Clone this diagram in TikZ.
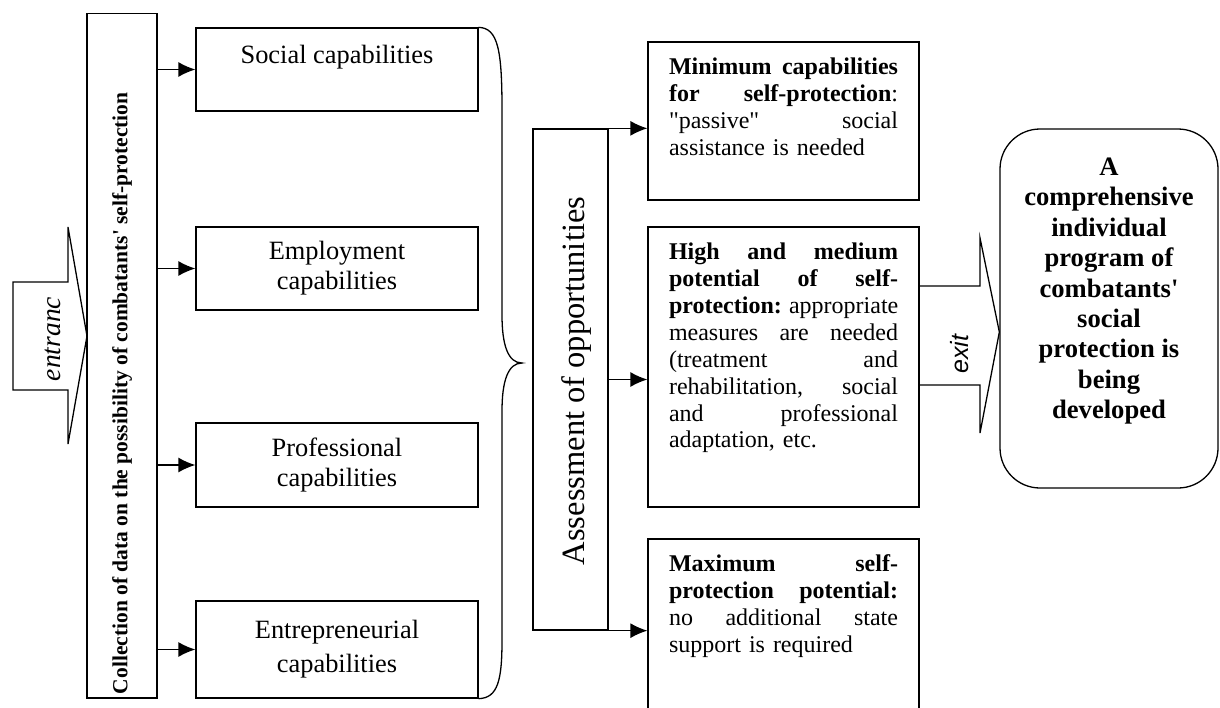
\documentclass[tikz,border=0pt]{standalone}
\usepackage{fontspec}
\setmainfont{Liberation Serif}
\newfontfamily\tnr{Liberation Serif}
\newfontfamily\exitsans{Liberation Sans}
\usetikzlibrary{arrows.meta}
\newcommand\jl[1]{\leavevmode\hbox to 229pt{\spaceskip=0.25em plus 20em\xspaceskip=0.3em plus 20em\relax #1}}

\begin{document}
\begin{tikzpicture}[x=1pt,y=-1pt,line width=1.3pt,
    arr/.style={-{Latex[length=17pt,width=15pt]}},
    capbox/.style={draw,minimum width=282pt,minimum height=83pt,align=center,
        font=\tnr\fontsize{26.4}{30}\selectfont},
    optbox/.style={draw,minimum width=271pt},
    opttxt/.style={anchor=north west,inner sep=0pt,text width=229pt,align=left,
        font=\tnr\fontsize{24}{26.9}\selectfont}]
            \useasboundingbox (0,0) rectangle (1220,707);
            \clip (0,0) rectangle (1220,707);

            % entrance
            \node[draw,minimum width=70pt,minimum height=684.5pt] (coll) at (122,355.75) {};
            \node[rotate=90,anchor=west,font=\tnr\bfseries\fontsize{21.5}{24}\selectfont] (colltxt) at (122,698)
                {Collection of data on the possibility of combatants' self-protection};
            \draw (13,282) -- (68,282) -- (68,227) -- (87,336) -- (68,444) -- (68,390) -- (13,390) -- cycle;
            \node[rotate=90,font=\tnr\itshape\fontsize{27.5}{30}\selectfont] (entr) at (53,339) {entranc};

            \node[capbox] (soc) at (337,69.5) {Social capabilities\\\mbox{}};
            \node[capbox] (emp) at (337,268.5) {Employment\\capabilities};
            \node[capbox,minimum height=84pt] (prof) at (337,465) {Professional\\capabilities};
            \node[capbox,minimum height=97pt] (entre) at (337,649.5) {Entrepreneurial\\[4pt]capabilities};

            \foreach \n in {soc,emp,prof,entre}
                \draw[arr] (coll.east |- \n.west) -- (\n.west);

            % brace
            \draw (soc.north east) .. controls (498,28) and (502,50) .. (502,110) -- (502,315)
                .. controls (502,345) and (508,363) .. (522,363)
                .. controls (508,363) and (502,381) .. (502,411) -- (502,640)
                .. controls (502,680) and (498,698) .. (entre.south east);

            \node[draw,minimum width=75pt,minimum height=501pt] (assess) at (570.5,379.5) {};
            \node[rotate=90,font=\tnr\fontsize{32.5}{36}\selectfont] (assesstxt) at (577,381) {Assessment of opportunities};

            \node[optbox,minimum height=158pt] (minbox) at (783.5,121) {};
            \node[optbox,minimum height=280pt] (midbox) at (783.5,367) {};
            \node[optbox,minimum height=180pt] (maxbox) at (783.5,629) {};

            \node[opttxt] (mintxt) at ([xshift=21pt,yshift=-16pt]minbox.north west)
                {\jl{\textbf{Minimum capabilities}}\\
                 \jl{\textbf{for self-protection}:}\\
                 \jl{"passive" social}\\
                 assistance is needed};
            \node[opttxt] (midtxt) at ([xshift=21pt,yshift=-16pt]midbox.north west)
                {\jl{\textbf{High and medium}}\\
                 \jl{\textbf{potential of self-}}\\
                 \jl{\textbf{protection:} appropriate}\\
                 \jl{measures are needed}\\
                 \jl{(treatment and}\\
                 \jl{rehabilitation, social}\\
                 \jl{and professional}\\
                 adaptation, etc.};
            \node[opttxt] (maxtxt) at ([xshift=21pt,yshift=-16pt]maxbox.north west)
                {\jl{\textbf{Maximum self-}}\\
                 \jl{\textbf{protection potential:}}\\
                 \jl{no additional state}\\
                 support is required};

            \draw[arr] (assess.north east) -- (minbox.west |- assess.north east);
            \draw[arr] (assess.east) -- (midbox.west |- assess.east);
            \draw[arr] (assess.south east) -- (maxbox.west |- assess.south east);

            % exit
            \node[draw,rounded corners=40pt,minimum width=218pt,minimum height=359pt,align=center,
                font=\tnr\bfseries\fontsize{26.6}{30.4}\selectfont] (final) at (1109,308.5)
                {A\\comprehensive\\individual\\program of\\combatants'\\social\\protection is\\being\\developed\\[10pt]\mbox{}};
            \draw (919,286) -- (980,286) -- (980,238) -- (final.west |- 0,332) -- (980,433) -- (980,385) -- (919,385);
            \node[rotate=90,font=\exitsans\itshape\fontsize{25}{30}\selectfont] (exittxt) at (960,354) {exit};
        \end{tikzpicture}
\end{document}
